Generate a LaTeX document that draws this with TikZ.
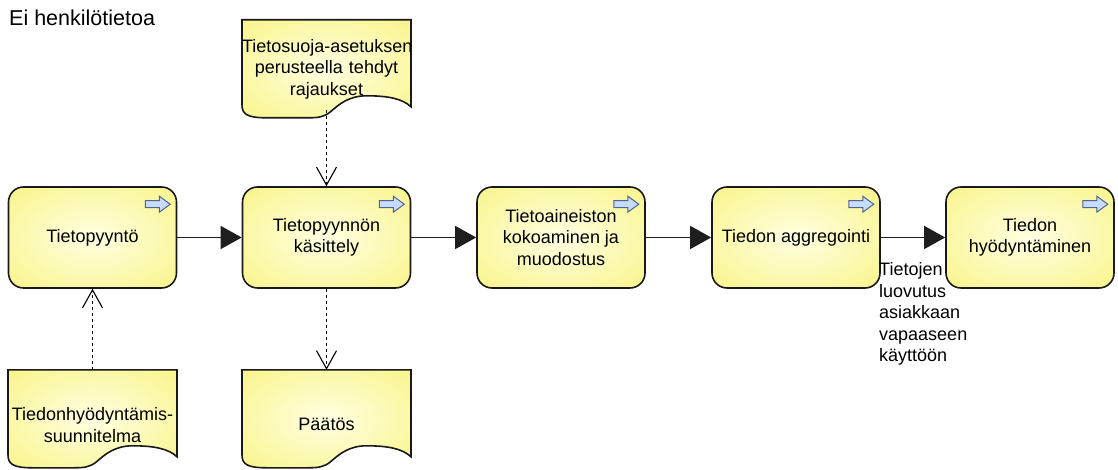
\documentclass[tikz,border=0pt]{standalone}
\usepackage{fontspec}
\setmainfont{Liberation Sans}
\usetikzlibrary{arrows.meta,positioning,calc,backgrounds}

\definecolor{taskedge}{RGB}{248,243,128}
\definecolor{taskcore}{RGB}{255,255,226}
\definecolor{iconfill}{RGB}{198,220,250}
\definecolor{iconline}{RGB}{80,100,145}
\definecolor{wireline}{RGB}{30,30,30}

\pgfdeclareradialshading{taskglow}{\pgfpoint{0bp}{0bp}}{color(0bp)=(taskcore); color(16bp)=(taskcore!60!taskedge); color(40bp)=(taskedge); color(50bp)=(taskedge)}

\tikzset{
  >=Stealth,
  base/.style={font=\fontsize{18bp}{21.5bp}\selectfont},
  task/.style={base, draw=black!90, line width=1.6pt, rounded corners=15bp, shade, shading=taskglow,
    minimum width=168bp, minimum height=101bp, align=center, inner sep=2bp},
  docbox/.style={base, inner sep=0pt, text width=169bp, align=center, minimum width=169bp},
  docbody/.style={draw=black!90, line width=1.6pt, shade, shading=taskglow},
  flow/.style={draw=wireline, line width=1.4pt, -{Triangle[length=21bp,width=23bp]}},
  assoc/.style={draw=black, line width=1.1pt, dash pattern=on 3bp off 3bp, -{Straight Barb[length=18bp,width=20bp]}},
  icon/.style={draw=iconline, fill=iconfill, line width=1pt, line join=miter},
  remark/.style={base, align=left, inner sep=0pt}
}

% small process arrow in the upper right corner of a task
\newcommand{\stepicon}[1]{%
  \begin{scope}[shift={($(#1.north east)+(-32,10)$)}]
    \draw[icon] (0,4.5) -- (14,4.5) -- (14,0) -- (25,8) -- (14,16) -- (14,11.5) -- (0,11.5) -- cycle;
  \end{scope}}

% document outline with wavy bottom, hung from the node's north anchor
\newcommand{\docshape}[1]{%
  \begin{scope}[on background layer, shift={(#1.north)}]
    \path[docbody] (-84.5,0) -- (84.5,0) -- (84.5,87)
      .. controls (76,79) and (62,76) .. (40,76)
      .. controls (22,76) and (12,85) .. (4,92)
      .. controls (-2,97) and (-8,98) .. (-18,98)
      -- (-60,98) .. controls (-80,98) and (-84.5,94) .. (-84.5,85) -- cycle;
  \end{scope}}

\begin{document}
\begin{tikzpicture}[x=1bp, y=-1bp]
  \useasboundingbox (0,0) rectangle (1118,470);

  \node[anchor=west, inner sep=0pt, font=\fontsize{21.5bp}{25bp}\selectfont] (privacy) at (9,18) {Ei henkilötietoa};

  % process steps
  \node[task] (request) at (92.5,237.5) {Tietopyyntö};
  \node[task] (handling) at (326.5,237.5) {Tietopyynnön\\käsittely};
  \node[task] (compile) at (561,237.5) {Tietoaineiston\\kokoaminen ja\\muodostus};
  \node[task] (aggregate) at (796,237.5) {Tiedon aggregointi};
  \node[task] (reuse) at (1030,237.5) {Tiedon\\hyödyntäminen};
  \foreach \s in {request,handling,compile,aggregate,reuse} {\stepicon{\s}}

  % documents
  \node[docbox, minimum height=98bp] (rules) at (326.5,69) {\mbox{Tietosuoja-asetuksen}\\perusteella tehdyt\\rajaukset};
  \node[docbox, minimum height=110bp] (plan) at (92.5,425) {Tiedonhyödyntämis-\\suunnitelma};
  \node[docbox, minimum height=108bp] (decision) at (326.5,424) {Päätös};
  \foreach \d in {rules,plan,decision} {\docshape{\d}}

  \draw[flow] (request) -- (handling);
  \draw[flow] (handling) -- (compile);
  \draw[flow] (compile) -- (aggregate);
  \draw[flow] (aggregate) -- (reuse);

  \draw[assoc, shorten <=-8bp] (rules) -- (handling);
  \draw[assoc] (handling) -- (decision);
  \draw[assoc] (plan) -- (request);

  \node[remark, anchor=west] (release) at (879,314) {Tietojen\\luovutus\\asiakkaan\\vapaaseen\\käyttöön};
\end{tikzpicture}
\end{document}
